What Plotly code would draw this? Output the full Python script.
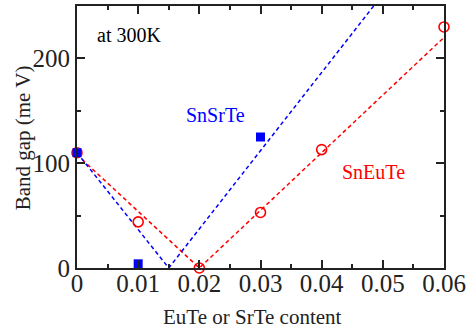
import plotly.graph_objects as go

# Data
srte_x = [0.0, 0.01, 0.03]
srte_y = [110, 4, 125]
srte_fit_x = [0.0, 0.015, 0.0485]
srte_fit_y = [110, 0, 250]

eute_x = [0.0, 0.01, 0.02, 0.03, 0.04, 0.06]
eute_y = [110, 44, 0, 53, 113, 230]
eute_fit_x = [0.0, 0.02, 0.06]
eute_fit_y = [108, 0, 220]

x_ticks = [0, 0.01, 0.02, 0.03, 0.04, 0.05, 0.06]
x_ticklabels = ["0", "0.01", "0.02", "0.03", "0.04", "0.05", "0.06"]
y_ticks = [0, 100, 200]

BLUE = "#0000ff"
RED = "#ff0000"
INK = "#222222"
FONT = "'Liberation Serif', 'Times New Roman', serif"

fig = go.Figure()
fig.add_trace(go.Scatter(x=eute_fit_x, y=eute_fit_y, mode="lines",
                         line=dict(color=RED, width=1.5, dash="4px,3px"),
                         hoverinfo="skip", showlegend=False))
fig.add_trace(go.Scatter(x=srte_fit_x, y=srte_fit_y, mode="lines",
                         line=dict(color=BLUE, width=1.5, dash="4px,3px"),
                         hoverinfo="skip", showlegend=False))
fig.add_trace(go.Scatter(x=eute_x, y=eute_y, mode="markers", cliponaxis=False,
                         marker=dict(symbol="circle-open", size=10, color=RED,
                                     line=dict(width=1.6, color=RED)),
                         showlegend=False))
fig.add_trace(go.Scatter(x=srte_x, y=srte_y, mode="markers", cliponaxis=False,
                         marker=dict(symbol="square", size=9, color=BLUE,
                                     line=dict(width=0)),
                         showlegend=False))

fig.add_annotation(x=0.0085, y=222, text="at 300K", showarrow=False,
                   xanchor="center", yanchor="middle",
                   font=dict(family=FONT, size=20, color="black"))
fig.add_annotation(x=0.0227, y=146, text="SnSrTe", showarrow=False,
                   xanchor="center", yanchor="middle",
                   font=dict(family=FONT, size=20, color=BLUE))
fig.add_annotation(x=0.0484, y=92, text="SnEuTe", showarrow=False,
                   xanchor="center", yanchor="middle",
                   font=dict(family=FONT, size=20, color=RED))

# axis titles as annotations for precise placement
fig.add_annotation(xref="paper", yref="paper", x=0.478, y=-0.187,
                   text="EuTe or SrTe content", showarrow=False,
                   xanchor="center", yanchor="middle",
                   font=dict(family=FONT, size=21, color=INK))
fig.add_annotation(xref="paper", yref="paper", x=-0.147, y=0.495,
                   text="Band gap (me V)", showarrow=False, textangle=-90,
                   xanchor="center", yanchor="middle",
                   font=dict(family=FONT, size=21, color=INK))

axis_common = dict(showline=True, linewidth=2, linecolor=INK, mirror="allticks",
                   ticks="inside", ticklen=8, tickwidth=1.5, tickcolor=INK,
                   showgrid=False, zeroline=False, automargin=False,
                   tickfont=dict(family=FONT, size=25, color=INK))

fig.update_xaxes(range=[0, 0.06], tickvals=x_ticks, ticktext=x_ticklabels,
                 minor=dict(ticks="inside", ticklen=4, tickwidth=1.5, tickcolor=INK,
                            dtick=0.005, tick0=0, showgrid=False),
                 ticklabelstandoff=-8,
                 **axis_common)
fig.update_yaxes(range=[0, 250], tickvals=y_ticks,
                 minor=dict(ticks="inside", ticklen=4, tickwidth=1.5, tickcolor=INK,
                            dtick=50, tick0=0, showgrid=False),
                 ticklabelstandoff=0,
                 **axis_common)

fig.update_layout(width=466, height=330, margin=dict(l=77, r=22, t=6, b=62),
                  plot_bgcolor="white", paper_bgcolor="white",
                  font=dict(family=FONT))

fig.write_html("out.html")
